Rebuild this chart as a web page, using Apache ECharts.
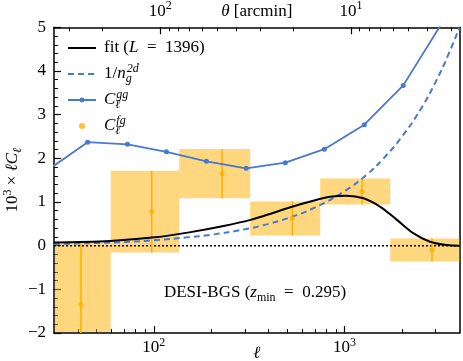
<!DOCTYPE html>
<html>
<head>
<meta charset="utf-8">
<script src="https://cdn.jsdelivr.net/npm/echarts@6/dist/echarts.min.js"></script>
<style>
  html, body { margin: 0; padding: 0; background: #fff; }
  #chart { width: 463px; height: 361px; }
</style>
</head>
<body>
<div id="chart"></div>
<script>
// axis ranges
const ellMin = 30, ellMax = 4000;
const thetaK = 10800; // theta [arcmin] = 10800 / ell
const ellMajor = [100, 1000];
const ellMinor = [40, 50, 60, 70, 80, 90, 200, 300, 400, 500, 600, 700, 800, 900, 2000, 3000];
const thetaMajor = [10, 100];
const thetaMinor = [3, 4, 5, 6, 7, 8, 9, 20, 30, 40, 50, 60, 70, 80, 90, 200, 300];

// fit (L = 1396)
const fitEll = [30, 59, 101, 156, 232, 321, 425, 520, 662, 841, 1025, 1256, 1538, 1880, 2300, 2800, 3430, 4000];
const fitVal = [0.075, 0.107, 0.19, 0.31, 0.45, 0.59, 0.755, 0.88, 1.01, 1.12, 1.145, 1.085, 0.89, 0.59, 0.28, 0.09, 0.015, 0.0];

// 1/n_g^2d (shot noise)
const shotEll = [30, 50, 75, 100, 150, 200, 300, 400, 500, 700, 1000, 1300, 1600, 2000, 2500, 3000, 3500, 4000];
const shotVal = [0.04, 0.06, 0.09, 0.125, 0.19, 0.25, 0.375, 0.5, 0.625, 0.875, 1.25, 1.62, 2.0, 2.5, 3.12, 3.75, 4.38, 5.0];

// C_ell^gg
const ggEll = [28, 45, 72.8, 116.5, 188.7, 305, 489, 783, 1268, 2029, 3240];
const ggVal = [1.74, 2.37, 2.32, 2.15, 1.93, 1.77, 1.90, 2.21, 2.77, 3.67, 5.1];

// C_ell^fg with bins and errors
const fgEll = [41.5, 97.5, 228, 532, 1234, 2870];
const fgVal = [-1.34, 0.78, 1.65, 0.62, 1.24, -0.10];
const fgErr = [1.41, 0.935, 0.5625, 0.39, 0.30, 0.265];
const binLo = [25, 59.5, 136, 320, 745, 1735];
const binHi = [59.5, 136, 320, 745, 1735, 4000];

const SERIF = '"Liberation Serif", "DejaVu Serif", serif';
const FS = 17;
const blue = '#4878CF';
const orange = '#FFB000';
const boxFill = 'rgba(255,176,0,0.5)';
const EQ = '\u2002=\u2002';

const base = { fontFamily: SERIF, fontSize: FS, color: '#000', lineHeight: 22 };
const small = { fontFamily: SERIF, fontSize: 12, color: '#000' };
const rich = {
  it:   Object.assign({}, base, { fontStyle: 'italic' }),
  sup:  Object.assign({}, small, { lineHeight: 14, verticalAlign: 'top' }),
  supi: Object.assign({}, small, { lineHeight: 14, verticalAlign: 'top', fontStyle: 'italic' }),
  sub:  Object.assign({}, small, { lineHeight: 12, verticalAlign: 'bottom' }),
  subi: Object.assign({}, small, { lineHeight: 12, verticalAlign: 'bottom', fontStyle: 'italic' }),
  subn: Object.assign({}, small, { lineHeight: 12, verticalAlign: 'bottom', fontStyle: 'italic', width: 1 })
};
const textStyle = Object.assign({}, base, { rich: rich });

const legendText = {
  'fit': 'fit ({it|L}' + EQ + '1396)',
  'shot': '1/{it|n}{subn|g}{supi|2d}',
  'gg': '{it|C}{subn|ℓ}{supi|gg}',
  'fg': '{it|C}{subn|ℓ}{supi|fg}'
};

const pow10 = v => '10{sup|' + Math.round(Math.log10(v)) + '}';
const pair = (xs, ys) => xs.map((x, i) => [x, ys[i]]);

const chart = echarts.init(document.getElementById('chart'));

const logAxis = (extra) => Object.assign({
  type: 'log', logBase: 10, min: ellMin, max: ellMax,
  splitLine: { show: false },
  axisLine: { show: false, onZero: false },
  axisLabel: { show: false },
  nameMoveOverlap: false
}, extra);

chart.setOption({
  animation: false,
  grid: {
    left: 54, right: 3.5, top: 27.3, bottom: 28,
    show: false, outerBoundsMode: 'none'
  },
  legend: {
    orient: 'vertical', left: 62, top: 32,
    itemWidth: 28, itemHeight: 6, itemGap: 4,
    selectedMode: false,
    data: [
      { name: 'fit', itemStyle: { opacity: 0 } },
      { name: 'shot', itemStyle: { opacity: 0 } },
      'gg', 'fg'
    ],
    formatter: n => legendText[n],
    textStyle: Object.assign({}, textStyle, { padding: [0, 0, 0, 3] })
  },
  xAxis: [
    logAxis({
      position: 'bottom',
      axisLine: { show: true, onZero: false, lineStyle: { color: '#000', width: 1.5 } },
      axisTick: { show: true, inside: true, length: 7, customValues: ellMajor, lineStyle: { color: '#000', width: 1.2 } },
      axisLabel: { show: true, customValues: ellMajor, formatter: pow10, margin: 4, ...textStyle },
      name: 'ℓ', nameLocation: 'middle', nameGap: 10,
      nameTextStyle: Object.assign({}, base, { fontStyle: 'italic' })
    }),
    logAxis({
      position: 'bottom',
      axisTick: { show: true, inside: true, length: 4, customValues: ellMinor, lineStyle: { color: '#000', width: 1 } }
    }),
    logAxis({
      position: 'top', min: thetaK / ellMax, max: thetaK / ellMin, inverse: true,
      axisLine: { show: true, onZero: false, lineStyle: { color: '#000', width: 1.5 } },
      axisTick: { show: true, inside: true, length: 7, customValues: thetaMajor, lineStyle: { color: '#000', width: 1.2 } },
      axisLabel: { show: true, customValues: thetaMajor, formatter: pow10, margin: 5, ...textStyle },
      name: '{it|θ} [arcmin]', nameLocation: 'middle', nameGap: 5,
      nameTextStyle: textStyle
    }),
    logAxis({
      position: 'top', min: thetaK / ellMax, max: thetaK / ellMin, inverse: true,
      axisTick: { show: true, inside: true, length: 4, customValues: thetaMinor, lineStyle: { color: '#000', width: 1 } }
    })
  ],
  yAxis: [
    {
      type: 'value', min: -2, max: 5, interval: 1,
      axisLine: { show: true, onZero: false, lineStyle: { color: '#000', width: 1.5 } },
      axisTick: { show: true, inside: true, length: 7, lineStyle: { color: '#000', width: 1.2 } },
      minorTick: { show: true, splitNumber: 5, length: 4, lineStyle: { color: '#000', width: 1 } },
      splitLine: { show: false },
      axisLabel: { margin: 8, formatter: v => (v < 0 ? '\u2212' + (-v) : '' + v), ...textStyle },
      name: '10{sup|3} × {it|ℓC}{subi|ℓ}', nameLocation: 'middle', nameGap: 30, nameRotate: 90,
      nameMoveOverlap: false,
      nameTextStyle: textStyle
    },
    {
      type: 'value', min: -2, max: 5, position: 'right',
      axisLine: { show: true, onZero: false, lineStyle: { color: '#000', width: 1.5 } },
      axisTick: { show: false }, axisLabel: { show: false }, splitLine: { show: false }
    }
  ],
  series: [
    {
      type: 'custom', name: 'boxes', z: 1,
      data: fgEll.map((x, i) => [binLo[i], binHi[i], fgVal[i] - fgErr[i], fgVal[i] + fgErr[i]]),
      encode: { x: [0, 1], y: [2, 3] },
      renderItem: (params, api) => {
        const p0 = api.coord([api.value(0), api.value(3)]);
        const p1 = api.coord([api.value(1), api.value(2)]);
        const cs = params.coordSys;
        const shape = echarts.graphic.clipRectByRect(
          { x: p0[0], y: p0[1], width: p1[0] - p0[0], height: p1[1] - p0[1] },
          { x: cs.x + 1, y: cs.y, width: cs.width - 1, height: cs.height - 1 });
        return shape && { type: 'rect', shape: shape, style: { fill: boxFill } };
      }
    },
    {
      type: 'line', name: 'zero', z: 2, symbol: 'none', silent: true,
      data: [[ellMin, 0], [ellMax, 0]],
      lineStyle: { color: '#000', width: 1.5, type: [2, 2] }
    },
    {
      type: 'custom', name: 'errbars', z: 3,
      data: fgEll.map((x, i) => [x, fgVal[i] - fgErr[i], fgVal[i] + fgErr[i]]),
      encode: { x: 0, y: [1, 2] },
      renderItem: (params, api) => {
        const cs = params.coordSys;
        const a = api.coord([api.value(0), api.value(1)]);
        const b = api.coord([api.value(0), api.value(2)]);
        const clamp = y => Math.min(Math.max(y, cs.y), cs.y + cs.height);
        return { type: 'line', shape: { x1: a[0], y1: clamp(a[1]), x2: b[0], y2: clamp(b[1]) },
                 style: { stroke: orange, lineWidth: 1.5 } };
      }
    },
    {
      type: 'line', name: 'shot', z: 4, symbol: 'none', smooth: true,
      data: pair(shotEll, shotVal),
      lineStyle: { color: blue, width: 2, type: [6, 4] },
      itemStyle: { color: blue }
    },
    {
      type: 'line', name: 'fit', z: 5, symbol: 'none', smooth: 0.35,
      data: pair(fitEll, fitVal),
      lineStyle: { color: '#000', width: 2 },
      itemStyle: { color: '#000' }
    },
    {
      type: 'line', name: 'gg', z: 6, symbol: 'circle', symbolSize: 5,
      data: pair(ggEll, ggVal),
      lineStyle: { color: blue, width: 1.8 },
      itemStyle: { color: blue }
    },
    {
      type: 'scatter', name: 'fg', z: 7, symbol: 'circle', symbolSize: 5,
      data: pair(fgEll, fgVal),
      itemStyle: { color: orange }
    }
  ],
  graphic: [{
    type: 'text', x: 255, y: 293, z: 20,
    style: {
      text: 'DESI-BGS ({it|z}{sub|min}' + EQ + '0.295)',
      fontFamily: SERIF, fontSize: FS, fill: '#000', lineHeight: 22,
      align: 'center', verticalAlign: 'middle', rich: rich
    }
  }]
});

window.addEventListener('resize', () => chart.resize());
</script>
</body>
</html>
